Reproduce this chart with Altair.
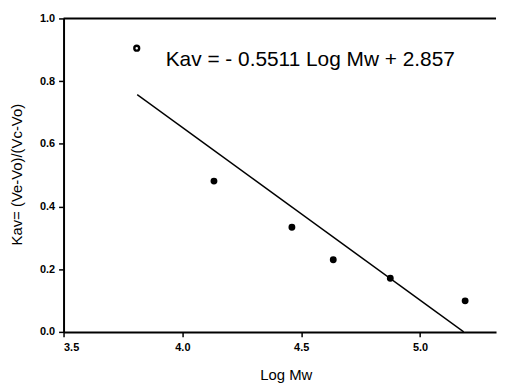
import altair as alt
import pandas as pd

# Data
log_mw = [3.808, 4.133, 4.461, 4.635, 4.875, 5.19]
kav = [0.905, 0.481, 0.334, 0.230, 0.171, 0.099]
point_style = ["open", "filled", "filled", "filled", "filled", "filled"]

fit_x = [3.81, 5.184]
fit_y = [0.757, 0.0]

x_ticks = [3.5, 4.0, 4.5, 5.0]
y_ticks = [0.0, 0.2, 0.4, 0.6, 0.8, 1.0]

frame_x = [3.5, 5.32]
frame_y = [1.0, 1.0]

equation = "Kav = - 0.5511 Log Mw + 2.857"
eq_x, eq_y = 3.93, 0.867

pts = pd.DataFrame({"x": log_mw, "y": kav, "style": point_style})
fit = pd.DataFrame({"x": fit_x, "y": fit_y})
frame = pd.DataFrame({"x": frame_x, "y": frame_y})
eq = pd.DataFrame({"x": [eq_x], "y": [eq_y], "t": [equation]})

FONT = "Liberation Sans"

xscale = alt.Scale(domain=[3.5, 5.32], nice=False, zero=False)
yscale = alt.Scale(domain=[0, 1.0], nice=False)

xaxis = alt.Axis(values=x_ticks, format=".1f", title="Log Mw", grid=False,
                 tickSize=5, tickColor="black", tickWidth=1.5,
                 domainColor="black", domainWidth=2,
                 labelFont=FONT, labelFontSize=11, labelFontWeight="bold", labelColor="black",
                 labelPadding=5,
                 titleFont=FONT, titleFontSize=15, titleFontWeight="normal", titleColor="black",
                 titleX=224, titleY=43, titleBaseline="middle", titleAlign="center")
yaxis = alt.Axis(values=y_ticks, format=".1f", title="Kav= (Ve-Vo)/(Vc-Vo)", grid=False,
                 tickSize=5, tickColor="black", tickWidth=1.5,
                 domainColor="black", domainWidth=2,
                 labelFont=FONT, labelFontSize=11, labelFontWeight="bold", labelColor="black",
                 labelPadding=4,
                 titleFont=FONT, titleFontSize=15, titleFontWeight="normal", titleColor="black",
                 titleX=-47, titleY=157, titleAngle=270, titleBaseline="middle", titleAlign="center")

X = alt.X("x:Q", scale=xscale, axis=xaxis)
Y = alt.Y("y:Q", scale=yscale, axis=yaxis)

base = alt.Chart(pts)

filled = base.transform_filter(alt.datum.style == "filled").mark_point(
    filled=True, color="black", size=48, opacity=1
).encode(x=X, y=Y)

opened = base.transform_filter(alt.datum.style == "open").mark_point(
    filled=False, color="black", size=24, strokeWidth=2.4, opacity=1
).encode(x=X, y=Y)

line = alt.Chart(fit).mark_line(color="black", strokeWidth=1.4).encode(x=X, y=Y)

top = alt.Chart(frame).mark_line(color="black", strokeWidth=2).encode(x=X, y=Y)

text = alt.Chart(eq).mark_text(align="left", baseline="middle", font=FONT, fontSize=21,
                               color="black").encode(x=X, y=Y, text="t:N")

chart = alt.layer(filled, opened, line, top, text).properties(
    width=436, height=316,
    autosize=alt.AutoSizeParams(type="none"),
    padding={"left": 56, "top": 9, "right": 4, "bottom": 50},
    background="white",
).configure_view(stroke=None)

chart.save("out.html", embed_options={"renderer": "svg", "actions": False})
